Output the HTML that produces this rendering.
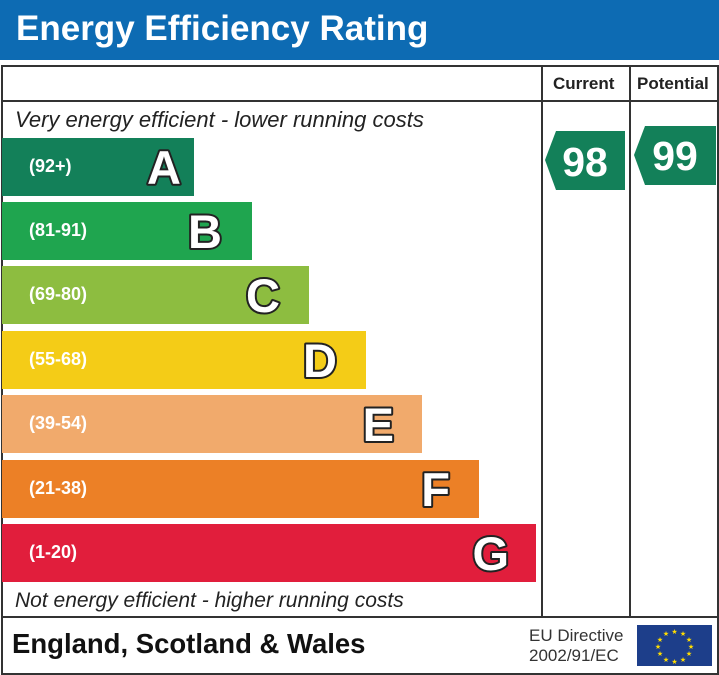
<!DOCTYPE html>
<html><head><style>
body{margin:0;width:719px;height:675px;background:#fff;position:relative;overflow:hidden;font-family:"Liberation Sans",Arial,sans-serif}
.a{position:absolute;white-space:nowrap}
.bar{position:absolute;left:2px;height:58px}
.bar .r{position:absolute;left:27px;top:18px;color:#fff;font-weight:bold;font-size:18px}
</style></head><body>
<div class="a" style="left:0;top:0;width:719px;height:60px;background:#0d6bb3"></div>
<div class="a" style="left:16px;top:9px;color:#fff;font-weight:bold;font-size:35px">Energy Efficiency Rating</div>
<div class="a" style="left:1px;top:65px;width:714px;height:606px;border:2px solid #333"></div>
<div class="a" style="left:2px;top:100px;width:715px;height:2px;background:#333"></div>
<div class="a" style="left:541px;top:66px;width:2px;height:552px;background:#333"></div>
<div class="a" style="left:629px;top:66px;width:2px;height:552px;background:#333"></div>
<div class="a" style="left:2px;top:616px;width:715px;height:2px;background:#333"></div>
<div class="a" style="left:553px;top:74px;font-weight:bold;font-size:17px;color:#222">Current</div>
<div class="a" style="left:637px;top:74px;font-weight:bold;font-size:17px;color:#222">Potential</div>
<div class="a" style="left:15px;top:107px;font-style:italic;font-size:22px;color:#222">Very energy efficient - lower running costs</div>
<div class="a" style="left:15px;top:589px;font-style:italic;font-size:21px;color:#222">Not energy efficient - higher running costs</div>
<div class="bar" style="top:138px;width:192px;background:#138059"><span class="r">(92+)</span></div>
<div class="bar" style="top:202px;width:250px;background:#1fa54f"><span class="r">(81-91)</span></div>
<div class="bar" style="top:266px;width:307px;background:#8dbd40"><span class="r">(69-80)</span></div>
<div class="bar" style="top:331px;width:364px;background:#f4cc17"><span class="r">(55-68)</span></div>
<div class="bar" style="top:395px;width:420px;background:#f1aa6c"><span class="r">(39-54)</span></div>
<div class="bar" style="top:460px;width:477px;background:#ec8026"><span class="r">(21-38)</span></div>
<div class="bar" style="top:524px;width:534px;background:#e11e3c"><span class="r">(1-20)</span></div>
<svg class="a" style="left:0;top:0" width="719" height="675">
<g font-family="Liberation Sans" font-weight="bold" font-size="47" fill="#fff" stroke="#222" stroke-width="4" paint-order="stroke fill" stroke-linejoin="round" text-anchor="end">
<text x="181" y="184">A</text>
<text x="222" y="248">B</text>
<text x="280" y="312">C</text>
<text x="337" y="377">D</text>
<text x="394" y="441">E</text>
<text x="450" y="506">F</text>
<text x="509" y="570">G</text>
</g>
<polygon points="545,160 556,131 625,131 625,190 556,190" fill="#138059"/>
<polygon points="634,155 645,126 716,126 716,185 645,185" fill="#138059"/>
<text x="585" y="176" fill="#fff" font-size="41" font-weight="bold" text-anchor="middle" font-family="Liberation Sans">98</text>
<text x="675" y="170" fill="#fff" font-size="41" font-weight="bold" text-anchor="middle" font-family="Liberation Sans">99</text>
<rect x="637" y="625" width="75" height="41" fill="#1d3e8a"/>
<g fill="#ffdd00" font-size="7" text-anchor="middle">
<text x="674.5" y="634">★</text><text x="683" y="636">★</text><text x="689" y="642">★</text><text x="691" y="649">★</text><text x="689" y="656">★</text><text x="683" y="662">★</text><text x="674.5" y="664">★</text><text x="666" y="662">★</text><text x="660" y="656">★</text><text x="658" y="649">★</text><text x="660" y="642">★</text><text x="666" y="636">★</text>
</g>
</svg>
<div class="a" style="left:12px;top:628px;font-weight:bold;font-size:27.5px;color:#111">England, Scotland &amp; Wales</div>
<div class="a" style="left:529px;top:626px;font-size:17px;color:#333;line-height:20px">EU Directive<br>2002/91/EC</div>
</body></html>
